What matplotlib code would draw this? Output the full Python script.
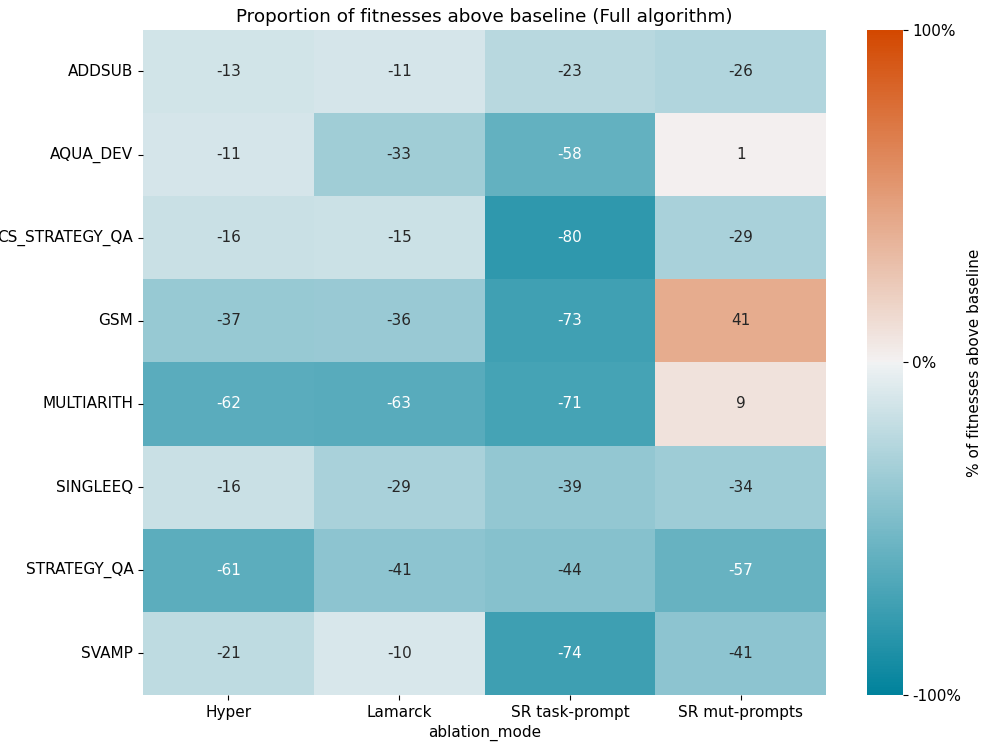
import numpy as np
import pandas as pd
import matplotlib
matplotlib.use('Agg')
import matplotlib.pyplot as plt
import seaborn as sns

datasets = ['ADDSUB', 'AQUA_DEV', 'CS_STRATEGY_QA', 'GSM', 'MULTIARITH',
            'SINGLEEQ', 'STRATEGY_QA', 'SVAMP']
modes = ['Hyper', 'Lamarck', 'SR task-prompt', 'SR mut-prompts']

hyper = [-13, -11, -16, -37, -62, -16, -61, -21]
lamarck = [-11, -33, -15, -36, -63, -29, -41, -10]
sr_task = [-23, -58, -80, -73, -71, -39, -44, -74]
sr_mut = [-26, 1, -29, 41, 9, -34, -57, -41]

df = pd.DataFrame({'Hyper': hyper, 'Lamarck': lamarck,
                   'SR task-prompt': sr_task, 'SR mut-prompts': sr_mut},
                  index=datasets)
df.columns.name = 'ablation_mode'

plt.rcParams['font.size'] = 11

fig = plt.figure(figsize=(9.92, 7.48), dpi=100)
ax = fig.add_axes([0.1442, 0.071, 0.6885, 0.889])
cax = fig.add_axes([0.874, 0.071, 0.036, 0.889])

# diverging teal -> light grey -> orange
cmap = sns.diverging_palette(220, 20, s=100, as_cmap=True)
sns.heatmap(df, ax=ax, cbar_ax=cax, cmap=cmap, vmin=-100, vmax=100,
            annot=True, fmt='d', annot_kws={'fontsize': 11},
            cbar_kws={'label': '% of fitnesses above baseline',
                      'ticks': [-100, 0, 100], 'format': '%d%%'})
ax.set_title('Proportion of fitnesses above baseline (Full algorithm)', fontsize=13.2)
ax.set_ylabel('')
ax.tick_params(axis='y', rotation=0)

fig.savefig('out.png', dpi=100)
